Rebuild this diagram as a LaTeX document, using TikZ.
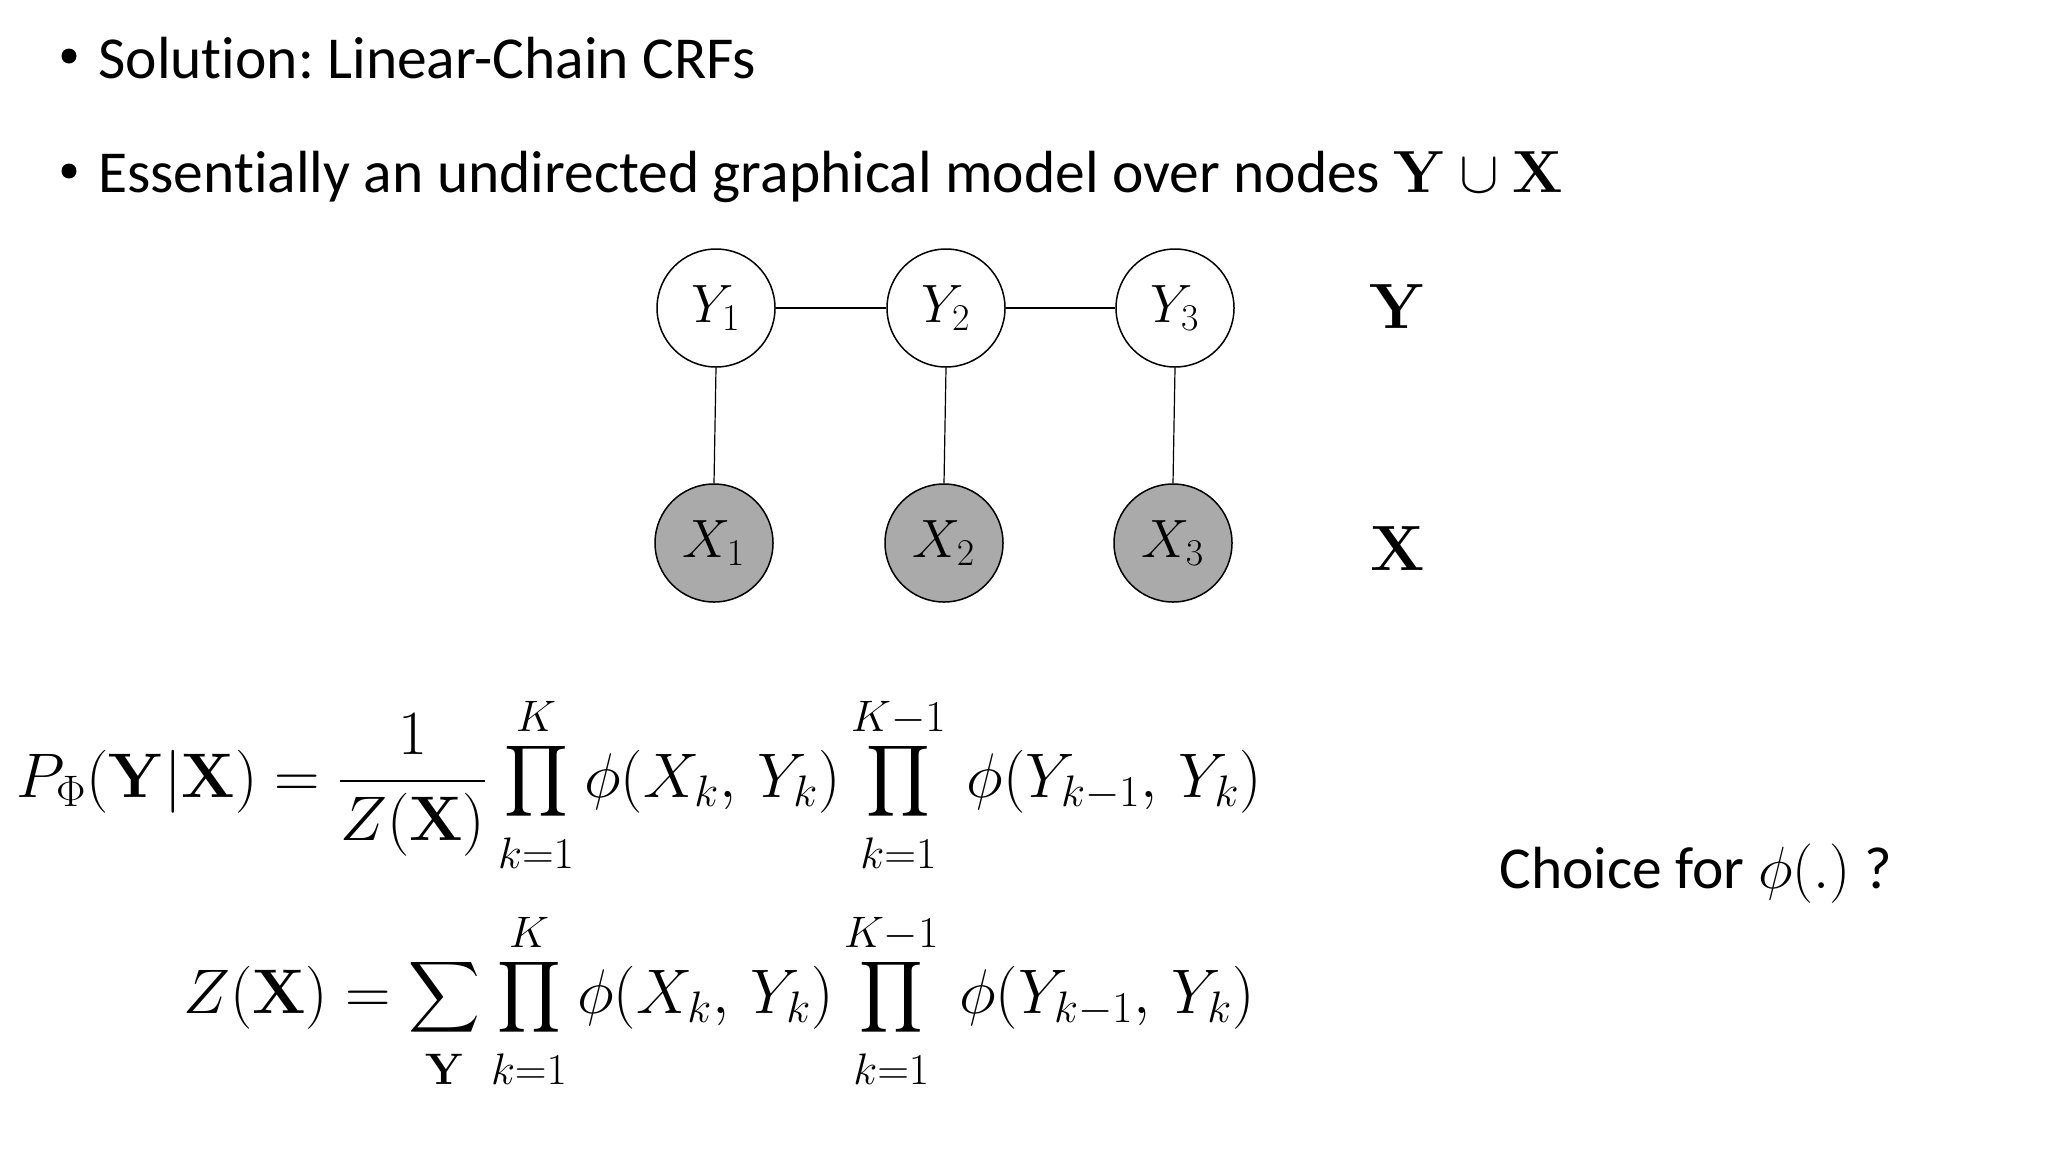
\RequirePackage{fix-cm}
\documentclass[tikz,border=0pt]{standalone}
\usepackage{amsmath}
\usepackage[no-math]{fontspec}
\setmainfont{Carlito}[Ligatures={NoCommon}]
\frenchspacing
\definecolor{obsgray}{RGB}{170,170,170}
\newcommand{\lowlim}[1]{\rule{0pt}{0.62em}#1}
\newcommand{\uplim}[1]{#1\rule[-0.06em]{0pt}{0pt}}
\begin{document}
\begin{tikzpicture}[x=0.5pt,y=-0.5pt,
  txt/.style={anchor=base west, inner sep=0pt, font=\fontsize{29.75}{36}\selectfont},
  bul/.style={circle, fill=black, inner sep=0pt, minimum size=7.5pt},
  var/.style={circle, draw, line width=0.75pt, minimum size=59pt, inner sep=0pt, fill=white, font=\fontsize{27}{32}\selectfont},
  obs/.style={var, fill=obsgray},
  lab/.style={inner sep=0pt, font=\fontsize{32}{38}\selectfont},
  eqn/.style={anchor=west, inner sep=0pt, font=\fontsize{31.5}{38}\selectfont},
  edge/.style={line width=0.6pt}]
\useasboundingbox (0,0) rectangle (2048,1152);
\fill[white] (0,0) rectangle (2048,1152);
% bullets
\node[bul] (b1) at (69,56) {};
\node[txt] (t1) at (98,78) {Solution: Linear-Chain CRFs};
\node[bul] (b2) at (69,171) {};
\node[txt] (t2) at (98,192) {Essentially an undirected graphical model over nodes $\mathbf{Y}\cup\mathbf{X}$};
% graph
\node[var] (y1) at (716,308) {$Y_1$};
\node[var] (y2) at (946,308) {$Y_2$};
\node[var] (y3) at (1175,308) {$Y_3$};
\node[obs] (x1) at (714,543) {$X_1$};
\node[obs] (x2) at (944,543) {$X_2$};
\node[obs] (x3) at (1173,543) {$X_3$};
\draw[edge] (y1) -- (y2);
\draw[edge] (y2) -- (y3);
\draw[edge] (y1.south) -- (x1.north);
\draw[edge] (y2.south) -- (x2.north);
\draw[edge] (y3.south) -- (x3.north);
\node[lab] (ly) at (1398,307) {$\mathbf{Y}$};
\node[lab] (lx) at (1398,549) {$\mathbf{X}$};
% equations
\node[eqn] (eq1) at (16,785) {$\displaystyle P_\Phi(\mathbf{Y}|\mathbf{X}) = \frac{1}{Z(\mathbf{X})}\prod_{\lowlim{k=1}}^{\uplim{K}}\phi(X_k,\,Y_k)\prod_{\lowlim{k=1}}^{\uplim{K-1}}\,\phi(Y_{k-1},\,Y_k)$};
\node[eqn] (eq2) at (183,1001) {$\displaystyle Z(\mathbf{X}) = \sum_{\lowlim{\mathbf{Y}}}\prod_{\lowlim{k=1}}^{\uplim{K}}\phi(X_k,\,Y_k)\prod_{\lowlim{k=1}}^{\uplim{K-1}}\,\phi(Y_{k-1},\,Y_k)$};
\node[txt] (ch) at (1499,888) {Choice for $\phi(.)$ ?};
\end{tikzpicture}
\end{document}
